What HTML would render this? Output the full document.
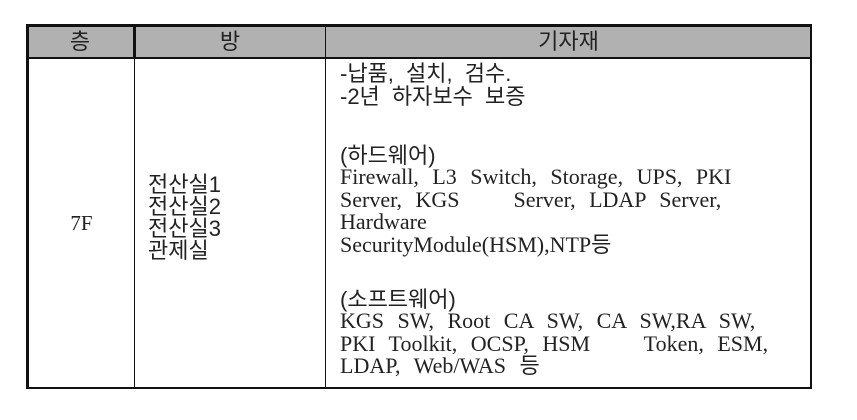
<!DOCTYPE html>
<html><head><meta charset="utf-8"><style>
body{margin:0;width:857px;height:420px;background:#fff;position:relative;overflow:hidden;font-family:"Liberation Serif","Noto Serif CJK SC",serif;color:#222}
.a{position:absolute;white-space:pre;line-height:22.5px}
.k{font-family:"Liberation Sans","Noto Sans CJK KR",sans-serif}
.h{position:absolute;top:24px;height:34px;background:#b1b1b1;border-top:3px solid #111;box-sizing:border-box}
.l{position:absolute;background:#111}
.e{font-size:22px;word-spacing:8px}
</style></head><body>
<div class="h" style="left:26px;width:786px"></div>
<div class="l" style="left:26px;top:24px;width:3px;height:365px"></div>
<div class="l" style="left:133px;top:24px;width:3px;height:34px"></div>
<div class="l" style="left:134px;top:58px;width:1px;height:330px"></div>
<div class="l" style="left:325px;top:24px;width:1px;height:365px"></div>
<div class="l" style="left:810px;top:24px;width:2px;height:365px"></div>
<div class="l" style="left:26px;top:57px;width:786px;height:2px"></div>
<div class="l" style="left:26px;top:387px;width:786px;height:2px"></div>
<div class="a k" style="left:26px;width:108px;top:28px;text-align:center;font-size:22px;line-height:28px">층</div>
<div class="a k" style="left:135px;width:190px;top:28px;text-align:center;font-size:22px;line-height:28px">방</div>
<div class="a k" style="left:326px;width:485px;top:28px;text-align:center;font-size:22px;line-height:28px">기자재</div>
<div class="a" style="left:29px;width:105px;top:212px;text-align:center;font-size:21px">7F</div>
<div class="a k" style="left:148px;top:174px;font-size:22px;line-height:22px">전산실1
전산실2
전산실3
관제실</div>
<div class="a k" style="left:340px;top:62px;font-size:22px;line-height:23px;word-spacing:6px">-납품, 설치, 검수.
-2년 하자보수 보증</div>
<div class="a k" style="left:340px;top:145px;font-size:22px">(하드웨어)</div>
<div class="a e" style="left:340px;top:166px">Firewall, L3 Switch, Storage, UPS, PKI
Server, KGS    Server, LDAP Server,
Hardware
SecurityModule(HSM),NTP<span class="k">등</span></div>
<div class="a k" style="left:340px;top:289px;font-size:22px">(소프트웨어)</div>
<div class="a e" style="left:340px;top:310px">KGS SW, Root CA SW, CA SW,RA SW,
PKI Toolkit, OCSP, HSM    Token, ESM,
LDAP, Web/WAS <span class="k">등</span></div>
</body></html>
